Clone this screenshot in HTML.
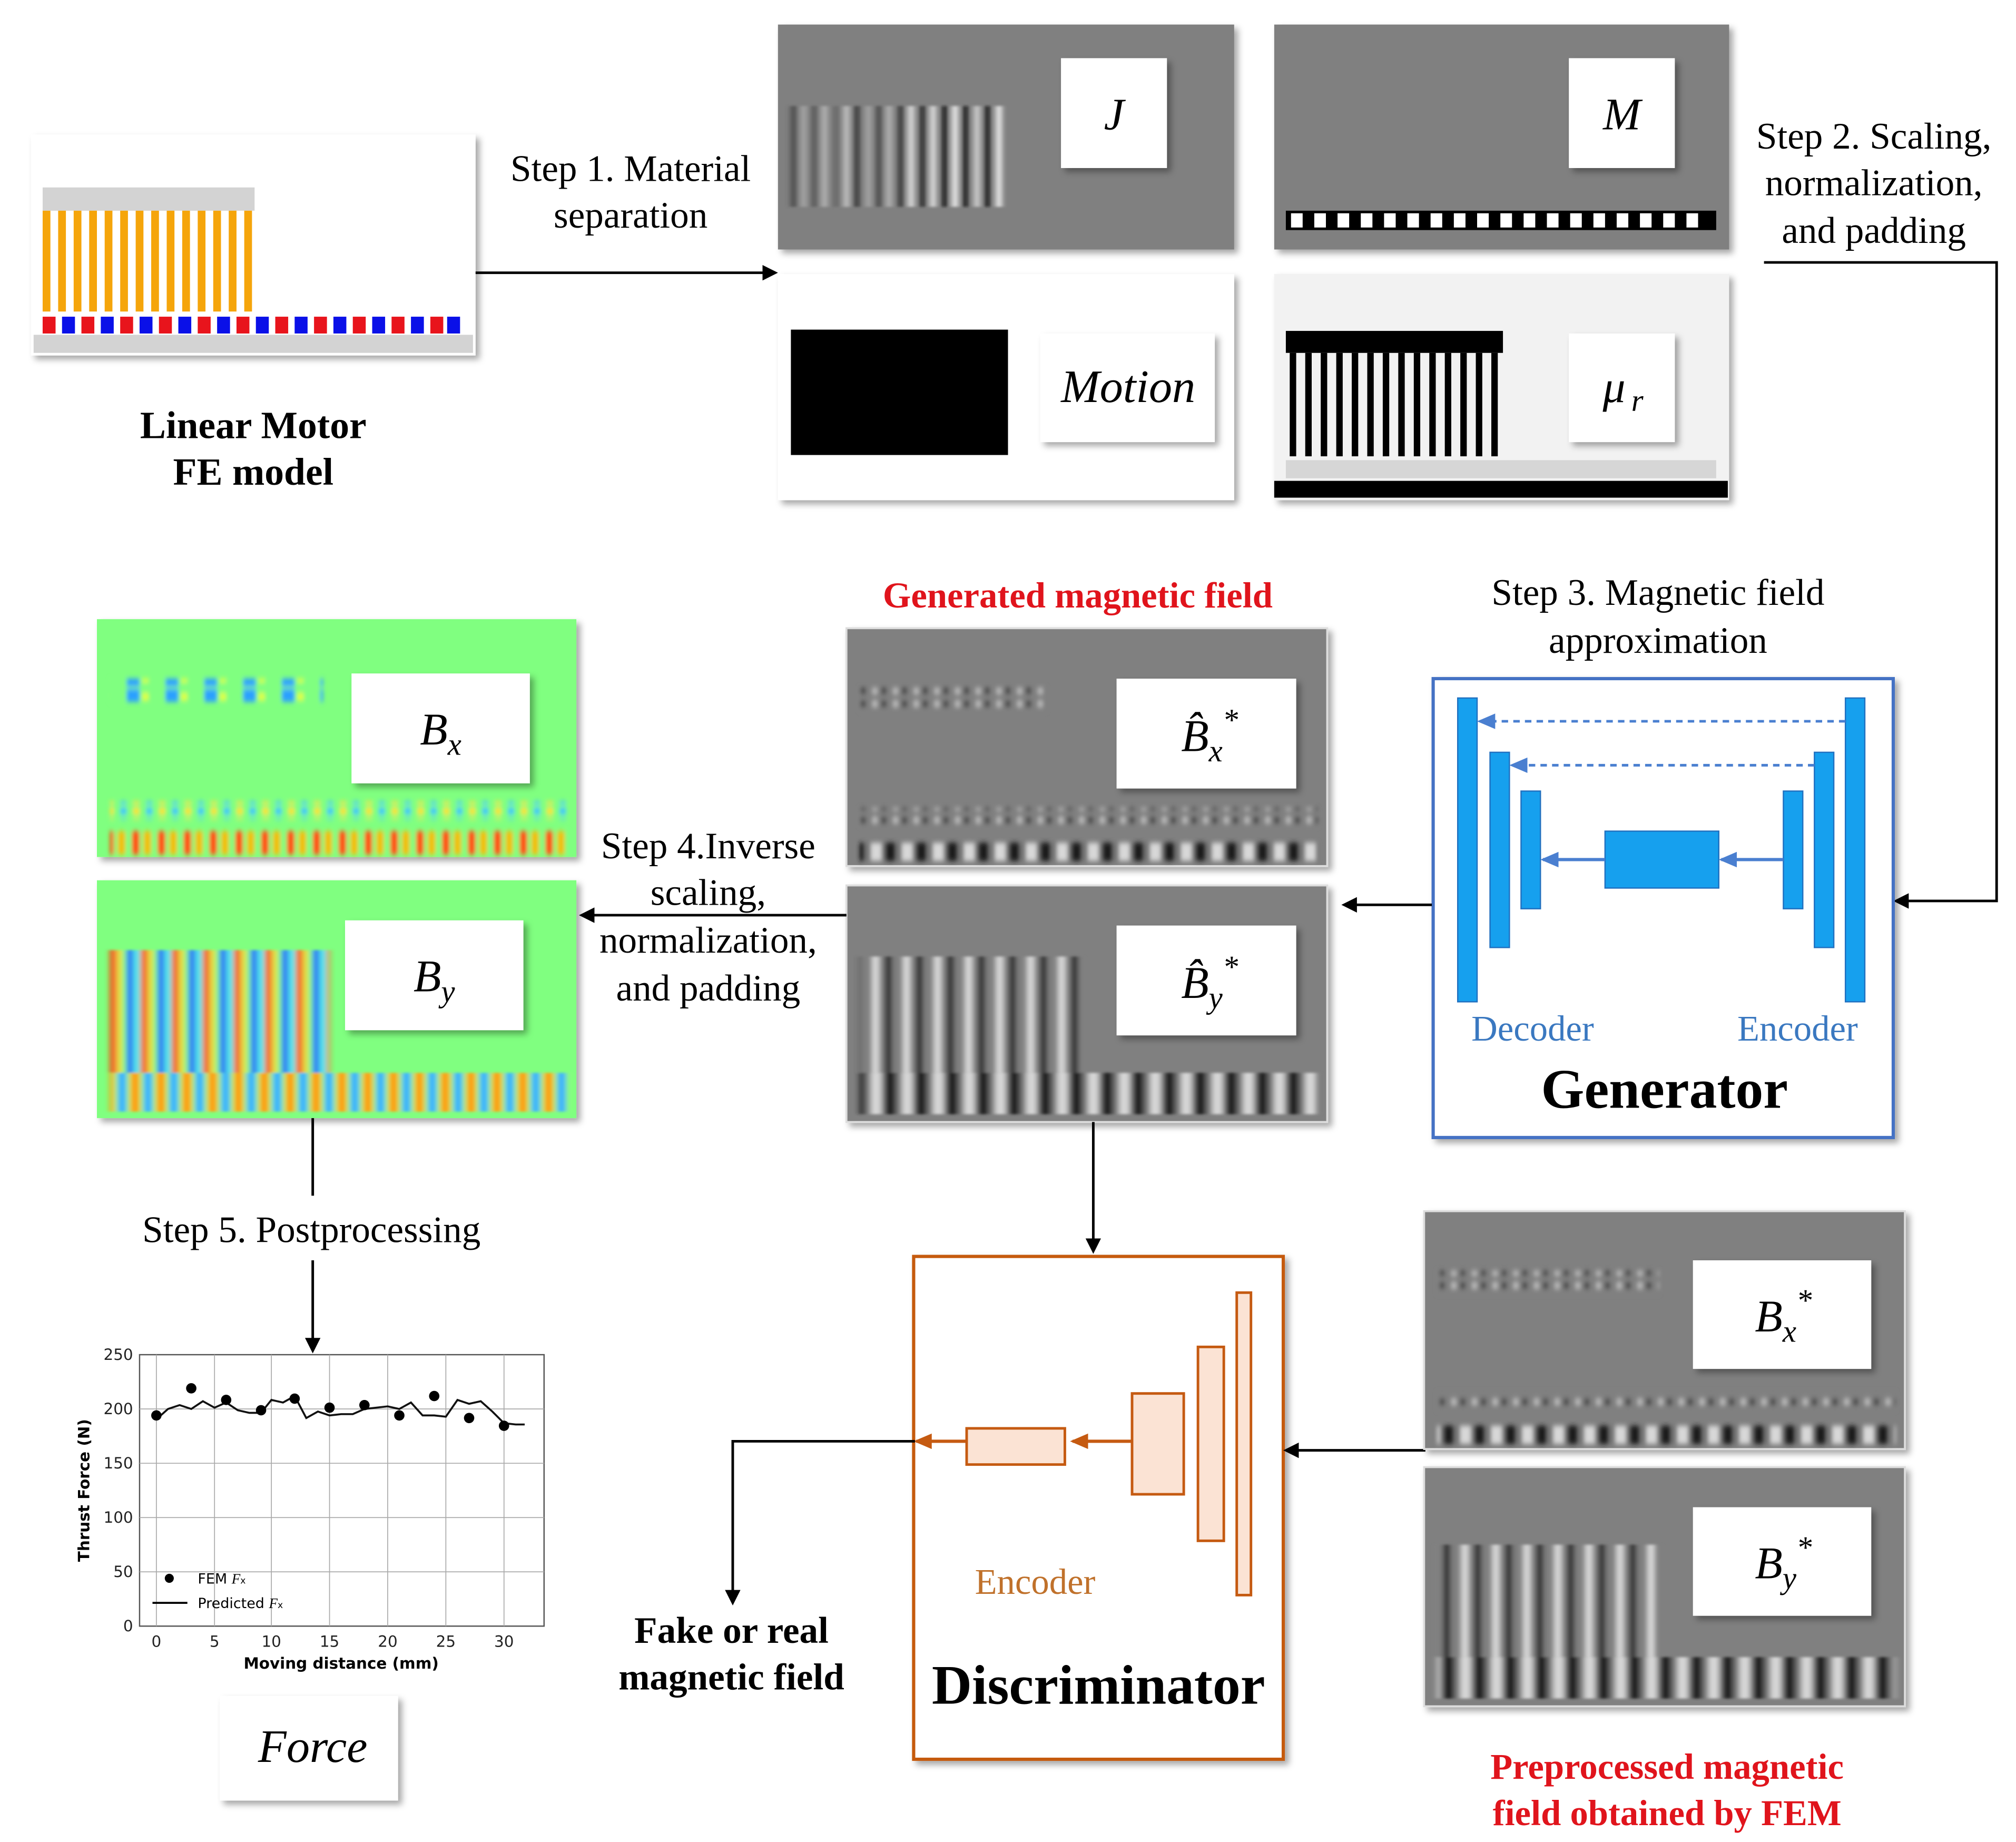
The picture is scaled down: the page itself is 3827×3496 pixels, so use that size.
<!DOCTYPE html>
<html><head><meta charset="utf-8">
<style>
html,body{margin:0;padding:0;background:#fff;}
svg{display:block;}
.s{font-family:"Liberation Serif",serif;}
.d{font-family:"DejaVu Sans","Liberation Sans",sans-serif;}
</style></head>
<body>
<svg width="3827" height="3496" viewBox="0 0 1560 1425" preserveAspectRatio="none" xmlns="http://www.w3.org/2000/svg">
<defs>
<filter id="sh" x="-10%" y="-10%" width="130%" height="130%"><feDropShadow dx="3" dy="3" stdDeviation="2.5" flood-color="#000" flood-opacity="0.35"/></filter>
<filter id="bl" x="-5%" y="-20%" width="110%" height="140%"><feGaussianBlur stdDeviation="2.2 1"/></filter>
<filter id="bl2" x="-5%" y="-20%" width="110%" height="140%"><feGaussianBlur stdDeviation="1.5 2"/></filter>
<marker id="arb" markerWidth="12" markerHeight="12" refX="10" refY="6" orient="auto" markerUnits="userSpaceOnUse"><path d="M0,0 L12,6 L0,12 z" fill="#000"/></marker>
<marker id="arblue" markerWidth="14" markerHeight="12" refX="12" refY="6" orient="auto" markerUnits="userSpaceOnUse"><path d="M0,0 L14,6 L0,12 z" fill="#4a7fd0"/></marker>
<marker id="aror" markerWidth="14" markerHeight="12" refX="12" refY="6" orient="auto" markerUnits="userSpaceOnUse"><path d="M0,0 L14,6 L0,12 z" fill="#c55a11"/></marker>
<pattern id="byp" width="24" height="10" patternUnits="userSpaceOnUse"><rect width="24" height="10" fill="#808080"/><rect x="3" width="5" height="10" fill="#e0e0e0"/><rect x="13" width="5" height="10" fill="#1a1a1a"/></pattern>
<pattern id="botp" width="24" height="10" patternUnits="userSpaceOnUse"><rect width="24" height="10" fill="#777"/><rect x="2" width="8" height="10" fill="#d8d8d8"/><rect x="13" width="8" height="10" fill="#1a1a1a"/></pattern>
<pattern id="dotp" width="16" height="10" patternUnits="userSpaceOnUse"><rect width="16" height="10" fill="#808080"/><rect x="3" y="2" width="4" height="5" fill="#bbb"/><rect x="10" y="2" width="4" height="5" fill="#444"/></pattern>
<pattern id="colBy" width="24" height="10" patternUnits="userSpaceOnUse"><rect width="24" height="10" fill="#80ff80"/><rect x="2" width="5" height="10" fill="#1060ff"/><rect x="8" width="4" height="10" fill="#40e0ff"/><rect x="13" width="5" height="10" fill="#ff4010"/><rect x="19" width="3" height="10" fill="#ffd000"/></pattern>
<pattern id="colBot" width="20" height="10" patternUnits="userSpaceOnUse"><rect width="20" height="10" fill="#a0ff60"/><rect x="1" width="7" height="10" fill="#ff9a00"/><rect x="11" width="7" height="10" fill="#30b0ff"/></pattern>
<pattern id="colBx" width="20" height="10" patternUnits="userSpaceOnUse"><rect width="20" height="10" fill="#80ff80"/><rect x="2" width="6" height="10" fill="#ff5010"/><rect x="11" width="6" height="10" fill="#f0c000"/></pattern>
<pattern id="colDots" width="20" height="8" patternUnits="userSpaceOnUse"><rect width="20" height="8" fill="#80ff80"/><rect x="3" y="1" width="5" height="5" fill="#ffe020"/><rect x="13" y="1" width="5" height="5" fill="#30c0ff"/></pattern>
<pattern id="blueDots" width="30" height="14" patternUnits="userSpaceOnUse"><rect width="30" height="14" fill="#80ff80"/><rect x="8" y="1" width="10" height="12" fill="#2aa0ff"/><rect x="20" y="4" width="5" height="6" fill="#e0ff40"/></pattern>
</defs>

<g class="s">
<!-- FE model -->
<g filter="url(#sh)"><rect x="24" y="104" width="344" height="171" fill="#fff"/></g>
<rect x="33" y="145" width="164" height="18" fill="#d3d3d3"/>
<g fill="#f5a50b">
<rect x="33" y="163" width="6" height="78"/><rect x="45" y="163" width="6" height="78"/><rect x="57" y="163" width="6" height="78"/><rect x="69" y="163" width="6" height="78"/><rect x="81" y="163" width="6" height="78"/><rect x="93" y="163" width="6" height="78"/><rect x="105" y="163" width="6" height="78"/><rect x="117" y="163" width="6" height="78"/><rect x="129" y="163" width="6" height="78"/><rect x="141" y="163" width="6" height="78"/><rect x="153" y="163" width="6" height="78"/><rect x="165" y="163" width="6" height="78"/><rect x="177" y="163" width="6" height="78"/><rect x="189" y="163" width="6" height="78"/>
</g>
<g>
<rect x="33" y="245" width="10" height="13" fill="#e8141c"/><rect x="48" y="245" width="10" height="13" fill="#0a10e8"/>
<rect x="63" y="245" width="10" height="13" fill="#e8141c"/><rect x="78" y="245" width="10" height="13" fill="#0a10e8"/>
<rect x="93" y="245" width="10" height="13" fill="#e8141c"/><rect x="108" y="245" width="10" height="13" fill="#0a10e8"/>
<rect x="123" y="245" width="10" height="13" fill="#e8141c"/><rect x="138" y="245" width="10" height="13" fill="#0a10e8"/>
<rect x="153" y="245" width="10" height="13" fill="#e8141c"/><rect x="168" y="245" width="10" height="13" fill="#0a10e8"/>
<rect x="183" y="245" width="10" height="13" fill="#e8141c"/><rect x="198" y="245" width="10" height="13" fill="#0a10e8"/>
<rect x="213" y="245" width="10" height="13" fill="#e8141c"/><rect x="228" y="245" width="10" height="13" fill="#0a10e8"/>
<rect x="243" y="245" width="10" height="13" fill="#e8141c"/><rect x="258" y="245" width="10" height="13" fill="#0a10e8"/>
<rect x="273" y="245" width="10" height="13" fill="#e8141c"/><rect x="288" y="245" width="10" height="13" fill="#0a10e8"/>
<rect x="303" y="245" width="10" height="13" fill="#e8141c"/><rect x="318" y="245" width="10" height="13" fill="#0a10e8"/>
<rect x="333" y="245" width="10" height="13" fill="#e8141c"/><rect x="346" y="245" width="10" height="13" fill="#0a10e8"/>
</g>
<rect x="26" y="259" width="340" height="14" fill="#d3d3d3"/>
<text x="196" y="339" font-size="30" font-weight="bold" text-anchor="middle">Linear Motor</text>
<text x="196" y="375" font-size="30" font-weight="bold" text-anchor="middle">FE model</text>

<!-- Step 1 -->
<line x1="368" y1="211" x2="600" y2="211" stroke="#000" stroke-width="2" marker-end="url(#arb)"/>
<text x="488" y="140" font-size="29" text-anchor="middle">Step 1. Material</text>
<text x="488" y="176" font-size="29" text-anchor="middle">separation</text>

<!-- J -->
<g filter="url(#sh)"><rect x="602" y="19" width="353" height="174" fill="#808080"/></g>
<g filter="url(#bl)">
<rect x="612" y="82" width="4" height="78" fill="#444"/><rect x="620" y="82" width="4" height="78" fill="#aaa"/><rect x="628" y="82" width="4" height="78" fill="#555"/><rect x="636" y="82" width="4" height="78" fill="#bbb"/><rect x="645" y="82" width="4" height="78" fill="#666"/><rect x="653" y="82" width="4" height="78" fill="#ccc"/><rect x="661" y="82" width="4" height="78" fill="#333"/><rect x="670" y="82" width="4" height="78" fill="#aaa"/><rect x="678" y="82" width="4" height="78" fill="#444"/><rect x="686" y="82" width="4" height="78" fill="#bbb"/><rect x="695" y="82" width="4" height="78" fill="#333"/><rect x="703" y="82" width="4" height="78" fill="#eee"/><rect x="712" y="82" width="4" height="78" fill="#222"/><rect x="720" y="82" width="4" height="78" fill="#eee"/><rect x="729" y="82" width="4" height="78" fill="#111"/><rect x="737" y="82" width="4" height="78" fill="#fff"/><rect x="745" y="82" width="4" height="78" fill="#111"/><rect x="754" y="82" width="4" height="78" fill="#ddd"/><rect x="762" y="82" width="4" height="78" fill="#111"/><rect x="771" y="82" width="4" height="78" fill="#fff"/>
</g>
<g filter="url(#sh)"><rect x="821" y="45" width="82" height="85" fill="#fff"/></g>
<text x="862" y="100" font-size="35" font-style="italic" text-anchor="middle">J</text>

<!-- M -->
<g filter="url(#sh)"><rect x="986" y="19" width="352" height="174" fill="#808080"/></g>
<rect x="995" y="163" width="333" height="15" fill="#000"/>
<g fill="#fff">
<rect x="999" y="165" width="9" height="11"/><rect x="1017" y="165" width="9" height="11"/><rect x="1035" y="165" width="9" height="11"/><rect x="1053" y="165" width="9" height="11"/><rect x="1071" y="165" width="9" height="11"/><rect x="1089" y="165" width="9" height="11"/><rect x="1107" y="165" width="9" height="11"/><rect x="1125" y="165" width="9" height="11"/><rect x="1143" y="165" width="9" height="11"/><rect x="1161" y="165" width="9" height="11"/><rect x="1179" y="165" width="9" height="11"/><rect x="1197" y="165" width="9" height="11"/><rect x="1215" y="165" width="9" height="11"/><rect x="1233" y="165" width="9" height="11"/><rect x="1251" y="165" width="9" height="11"/><rect x="1269" y="165" width="9" height="11"/><rect x="1287" y="165" width="9" height="11"/><rect x="1305" y="165" width="9" height="11"/>
</g>
<g filter="url(#sh)"><rect x="1214" y="45" width="82" height="85" fill="#fff"/></g>
<text x="1255" y="100" font-size="35" font-style="italic" text-anchor="middle">M</text>

<!-- Motion -->
<g filter="url(#sh)"><rect x="602" y="212" width="353" height="175" fill="#fff"/></g>
<rect x="612" y="255" width="168" height="97" fill="#000"/>
<g filter="url(#sh)"><rect x="805" y="258" width="135" height="84" fill="#fff"/></g>
<text x="873" y="311" font-size="36" font-style="italic" text-anchor="middle">Motion</text>

<!-- mu_r -->
<g filter="url(#sh)"><rect x="986" y="212" width="352" height="175" fill="#f2f2f2"/></g>
<rect x="995" y="256" width="168" height="17" fill="#000"/>
<g fill="#000">
<rect x="998" y="273" width="5" height="80"/><rect x="1010" y="273" width="5" height="80"/><rect x="1022" y="273" width="5" height="80"/><rect x="1034" y="273" width="5" height="80"/><rect x="1046" y="273" width="5" height="80"/><rect x="1058" y="273" width="5" height="80"/><rect x="1070" y="273" width="5" height="80"/><rect x="1082" y="273" width="5" height="80"/><rect x="1094" y="273" width="5" height="80"/><rect x="1106" y="273" width="5" height="80"/><rect x="1118" y="273" width="5" height="80"/><rect x="1130" y="273" width="5" height="80"/><rect x="1142" y="273" width="5" height="80"/><rect x="1154" y="273" width="5" height="80"/>
</g>
<rect x="995" y="356" width="333" height="14" fill="#d6d6d6"/>
<rect x="986" y="372" width="351" height="13" fill="#000"/>
<g filter="url(#sh)"><rect x="1214" y="258" width="82" height="84" fill="#fff"/></g>
<text x="1249" y="311" font-size="35" font-style="italic" text-anchor="middle">μ</text><text x="1267" y="318" font-size="24" font-style="italic" text-anchor="middle">r</text>

<!-- Step 2 -->
<text x="1450" y="115" font-size="29" text-anchor="middle">Step 2. Scaling,</text>
<text x="1450" y="151" font-size="29" text-anchor="middle">normalization,</text>
<text x="1450" y="188" font-size="29" text-anchor="middle">and padding</text>
<polyline points="1365,203 1545,203 1545,697 1467,697" fill="none" stroke="#000" stroke-width="2" marker-end="url(#arb)"/>

<!-- Generator -->
<text x="1283" y="468" font-size="29" text-anchor="middle">Step 3. Magnetic field</text>
<text x="1283" y="505" font-size="29" text-anchor="middle">approximation</text>
<g filter="url(#sh)"><rect x="1109" y="525" width="356" height="355" fill="#fff" stroke="#4472c4" stroke-width="2.5"/></g>
<g fill="#16a0ee" stroke="#2070c0" stroke-width="1">
<rect x="1128" y="540" width="15" height="235"/><rect x="1153" y="582" width="15" height="151"/><rect x="1177" y="612" width="15" height="91"/>
<rect x="1242" y="643" width="88" height="44"/>
<rect x="1380" y="612" width="15" height="91"/><rect x="1404" y="582" width="15" height="151"/><rect x="1428" y="540" width="15" height="235"/>
</g>
<line x1="1428" y1="558" x2="1145" y2="558" stroke="#4a7fd0" stroke-width="2" stroke-dasharray="5,4" marker-end="url(#arblue)"/>
<line x1="1404" y1="592" x2="1170" y2="592" stroke="#4a7fd0" stroke-width="2" stroke-dasharray="5,4" marker-end="url(#arblue)"/>
<line x1="1242" y1="665" x2="1194" y2="665" stroke="#4a7fd0" stroke-width="2.5" marker-end="url(#arblue)"/>
<line x1="1380" y1="665" x2="1332" y2="665" stroke="#4a7fd0" stroke-width="2.5" marker-end="url(#arblue)"/>
<text x="1186" y="805" font-size="28" fill="#3a78c0" text-anchor="middle">Decoder</text>
<text x="1391" y="805" font-size="28" fill="#3a78c0" text-anchor="middle">Encoder</text>
<text x="1288" y="857" font-size="43" font-weight="bold" text-anchor="middle">Generator</text>
<line x1="1108" y1="700" x2="1040" y2="700" stroke="#000" stroke-width="2" marker-end="url(#arb)"/>

<!-- Generated field -->
<text x="834" y="470" font-size="28" font-weight="bold" fill="#e0141c" text-anchor="middle">Generated magnetic field</text>
<g filter="url(#sh)"><rect x="655" y="486" width="372" height="184" fill="#808080" stroke="#ddd" stroke-width="1.5"/></g>
<g filter="url(#bl2)">
<rect x="665" y="532" width="145" height="18" fill="url(#dotp)"/>
<rect x="665" y="625" width="355" height="14" fill="url(#dotp)"/>
<rect x="665" y="652" width="355" height="14" fill="url(#botp)"/>
</g>
<g filter="url(#sh)"><rect x="864" y="525" width="139" height="85" fill="#fff"/></g>
<text x="936" y="581" font-size="35" font-style="italic" text-anchor="middle">B̂<tspan font-size="24" dy="8">x</tspan><tspan font-size="24" dy="-24">*</tspan></text>

<g filter="url(#sh)"><rect x="655" y="685" width="372" height="183" fill="#808080" stroke="#ddd" stroke-width="1.5"/></g>
<g filter="url(#bl)">
<rect x="665" y="740" width="172" height="90" fill="url(#byp)"/>
<rect x="665" y="830" width="355" height="32" fill="url(#botp)"/>
</g>
<g filter="url(#sh)"><rect x="864" y="716" width="139" height="85" fill="#fff"/></g>
<text x="936" y="772" font-size="35" font-style="italic" text-anchor="middle">B̂<tspan font-size="24" dy="8">y</tspan><tspan font-size="24" dy="-24">*</tspan></text>

<!-- Step 4 -->
<line x1="655" y1="708" x2="450" y2="708" stroke="#000" stroke-width="2" marker-end="url(#arb)"/>
<text x="548" y="664" font-size="29" text-anchor="middle">Step 4.Inverse</text>
<text x="548" y="700" font-size="29" text-anchor="middle">scaling,</text>
<text x="548" y="737" font-size="29" text-anchor="middle">normalization,</text>
<text x="548" y="774" font-size="29" text-anchor="middle">and padding</text>

<!-- Colored Bx, By -->
<g filter="url(#sh)"><rect x="75" y="479" width="371" height="184" fill="#80ff80"/></g>
<g filter="url(#bl2)">
<rect x="85" y="525" width="165" height="18" fill="url(#blueDots)"/>
<rect x="85" y="620" width="355" height="14" fill="url(#colDots)"/>
<rect x="85" y="643" width="355" height="18" fill="url(#colBx)"/>
</g>
<g filter="url(#sh)"><rect x="272" y="521" width="138" height="85" fill="#fff"/></g>
<text x="341" y="576" font-size="35" font-style="italic" text-anchor="middle">B<tspan font-size="24" dy="8">x</tspan></text>

<g filter="url(#sh)"><rect x="75" y="681" width="371" height="184" fill="#80ff80"/></g>
<g filter="url(#bl)">
<rect x="85" y="735" width="170" height="95" fill="url(#colBy)"/>
<rect x="85" y="830" width="355" height="30" fill="url(#colBot)"/>
</g>
<g filter="url(#sh)"><rect x="267" y="712" width="138" height="85" fill="#fff"/></g>
<text x="336" y="767" font-size="35" font-style="italic" text-anchor="middle">B<tspan font-size="24" dy="8">y</tspan></text>

<!-- Step 5 -->
<line x1="242" y1="865" x2="242" y2="925" stroke="#000" stroke-width="2"/>
<text x="241" y="961" font-size="29" text-anchor="middle">Step 5. Postprocessing</text>
<line x1="242" y1="975" x2="242" y2="1045" stroke="#000" stroke-width="2" marker-end="url(#arb)"/>
</g>

<!-- Chart -->
<g class="d">
<rect x="108" y="1048" width="313" height="210" fill="#fff" stroke="#555" stroke-width="1"/>
<g stroke="#aaa" stroke-width="0.7">
<line x1="108" y1="1090" x2="421" y2="1090"/><line x1="108" y1="1132" x2="421" y2="1132"/><line x1="108" y1="1174" x2="421" y2="1174"/><line x1="108" y1="1216" x2="421" y2="1216"/>
<line x1="121" y1="1048" x2="121" y2="1258"/><line x1="166" y1="1048" x2="166" y2="1258"/><line x1="210" y1="1048" x2="210" y2="1258"/><line x1="255" y1="1048" x2="255" y2="1258"/><line x1="300" y1="1048" x2="300" y2="1258"/><line x1="345" y1="1048" x2="345" y2="1258"/><line x1="390" y1="1048" x2="390" y2="1258"/>
</g>
<g font-size="12" fill="#222" text-anchor="end" class="d">
<text x="103" y="1052">250</text><text x="103" y="1094">200</text><text x="103" y="1136">150</text><text x="103" y="1178">100</text><text x="103" y="1220">50</text><text x="103" y="1262">0</text>
</g>
<g font-size="12" fill="#222" text-anchor="middle" class="d">
<text x="121" y="1274">0</text><text x="166" y="1274">5</text><text x="210" y="1274">10</text><text x="255" y="1274">15</text><text x="300" y="1274">20</text><text x="345" y="1274">25</text><text x="390" y="1274">30</text>
</g>
<text class="d" x="264" y="1291" font-size="12" font-weight="bold" text-anchor="middle">Moving distance (mm)</text>
<text class="d" transform="translate(69,1153) rotate(-90)" font-size="12" font-weight="bold" text-anchor="middle">Thrust Force (N)</text>
<polyline fill="none" stroke="#111" stroke-width="1.5" points="121,1098 130,1090 139,1087 148,1090 157,1084 166,1089 175,1085 184,1091 193,1093 202,1093 210,1083 219,1085 228,1080 237,1097 246,1092 255,1095 264,1094 273,1094 282,1090 291,1089 300,1088 309,1090 318,1085 327,1095 336,1095 345,1096 354,1083 363,1086 372,1084 381,1092 390,1101 399,1102 406,1102"/>
<g fill="#000">
<circle cx="121" cy="1095" r="4"/><circle cx="148" cy="1074" r="4"/><circle cx="175" cy="1083" r="4"/><circle cx="202" cy="1091" r="4"/><circle cx="228" cy="1082" r="4"/><circle cx="255" cy="1089" r="4"/><circle cx="282" cy="1087" r="4"/><circle cx="309" cy="1095" r="4"/><circle cx="336" cy="1080" r="4"/><circle cx="363" cy="1097" r="4"/><circle cx="390" cy="1103" r="4"/>
<circle cx="131" cy="1221" r="3.5"/>
</g>
<line x1="118" y1="1240" x2="145" y2="1240" stroke="#000" stroke-width="1.5"/>
<text class="d" x="153" y="1225" font-size="11">FEM <tspan font-style="italic" font-family="Liberation Serif">F</tspan><tspan font-size="7">x</tspan></text>
<text class="d" x="153" y="1244" font-size="11">Predicted <tspan font-style="italic" font-family="Liberation Serif">F</tspan><tspan font-size="7">x</tspan></text>
</g>

<g class="s">
<g filter="url(#sh)"><rect x="170" y="1312" width="138" height="81" fill="#fff"/></g>
<text x="242" y="1363" font-size="36" font-style="italic" text-anchor="middle">Force</text>

<!-- Discriminator -->
<line x1="846" y1="868" x2="846" y2="968" stroke="#000" stroke-width="2" marker-end="url(#arb)"/>
<g filter="url(#sh)"><rect x="707" y="972" width="286" height="389" fill="#fff" stroke="#c55a11" stroke-width="2.5"/></g>
<g fill="#fbe3d4" stroke="#c55a11" stroke-width="2">
<rect x="957" y="1000" width="11" height="234"/><rect x="927" y="1042" width="20" height="150"/><rect x="876" y="1078" width="40" height="78"/><rect x="748" y="1105" width="76" height="28"/>
</g>
<line x1="876" y1="1115" x2="830" y2="1115" stroke="#c55a11" stroke-width="2.5" marker-end="url(#aror)"/>
<line x1="748" y1="1115" x2="709" y2="1115" stroke="#c55a11" stroke-width="2.5" marker-end="url(#aror)"/>
<text x="801" y="1233" font-size="28" fill="#c0712b" text-anchor="middle">Encoder</text>
<text x="850" y="1318" font-size="43" font-weight="bold" text-anchor="middle">Discriminator</text>
<polyline points="708,1115 567,1115 567,1240" fill="none" stroke="#000" stroke-width="2" marker-end="url(#arb)"/>
<text x="566" y="1271" font-size="29" font-weight="bold" text-anchor="middle">Fake or real</text>
<text x="566" y="1307" font-size="29" font-weight="bold" text-anchor="middle">magnetic field</text>
<line x1="1103" y1="1122" x2="995" y2="1122" stroke="#000" stroke-width="2" marker-end="url(#arb)"/>

<!-- FEM fields -->
<g filter="url(#sh)"><rect x="1102" y="937" width="372" height="184" fill="#808080" stroke="#ddd" stroke-width="1.5"/></g>
<g filter="url(#bl2)">
<rect x="1112" y="983" width="172" height="18" fill="url(#dotp)"/>
<rect x="1112" y="1077" width="355" height="14" fill="url(#dotp)"/>
<rect x="1112" y="1103" width="355" height="14" fill="url(#botp)"/>
</g>
<g filter="url(#sh)"><rect x="1310" y="975" width="138" height="84" fill="#fff"/></g>
<text x="1380" y="1030" font-size="35" font-style="italic" text-anchor="middle">B<tspan font-size="24" dy="8">x</tspan><tspan font-size="24" dy="-24">*</tspan></text>

<g filter="url(#sh)"><rect x="1102" y="1135" width="372" height="185" fill="#808080" stroke="#ddd" stroke-width="1.5"/></g>
<g filter="url(#bl)">
<rect x="1112" y="1195" width="172" height="87" fill="url(#byp)"/>
<rect x="1112" y="1282" width="355" height="32" fill="url(#botp)"/>
</g>
<g filter="url(#sh)"><rect x="1310" y="1166" width="138" height="84" fill="#fff"/></g>
<text x="1380" y="1221" font-size="35" font-style="italic" text-anchor="middle">B<tspan font-size="24" dy="8">y</tspan><tspan font-size="24" dy="-24">*</tspan></text>

<text x="1290" y="1376" font-size="28" font-weight="bold" fill="#e0141c" text-anchor="middle">Preprocessed magnetic</text>
<text x="1290" y="1412" font-size="28" font-weight="bold" fill="#e0141c" text-anchor="middle">field obtained by FEM</text>
</g>
</svg>
</body></html>
